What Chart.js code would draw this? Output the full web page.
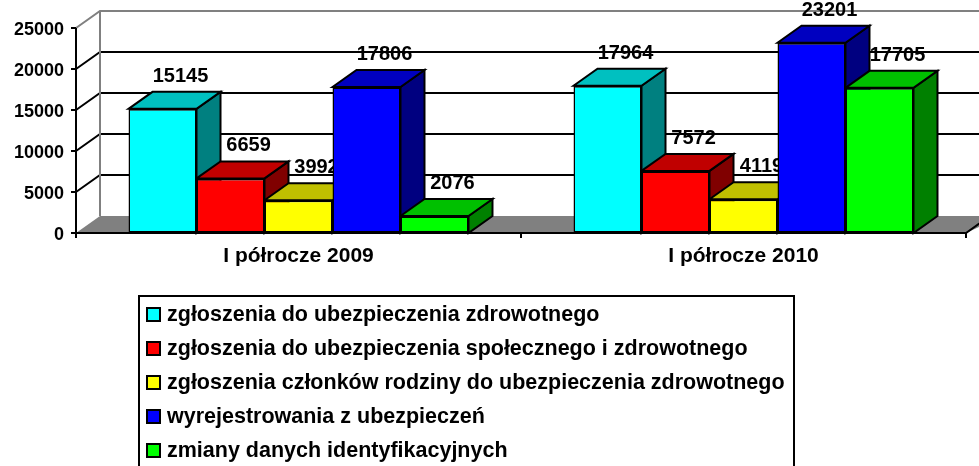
<!DOCTYPE html>
<html>
<head>
<meta charset="utf-8">
<script src="https://cdn.jsdelivr.net/npm/chart.js@4.4.0/dist/chart.umd.min.js"></script>
<style>
body{margin:0;background:#fff;}
</style>
</head>
<body>
<canvas id="myChart" width="979" height="466"></canvas>
<script>
var categories = ["I półrocze 2009", "I półrocze 2010"];
var seriesNames = [
  "zgłoszenia do ubezpieczenia zdrowotnego",
  "zgłoszenia do ubezpieczenia społecznego i zdrowotnego",
  "zgłoszenia członków rodziny do ubezpieczenia zdrowotnego",
  "wyrejestrowania z ubezpieczeń",
  "zmiany danych identyfikacyjnych"
];
var zdrowotne = [15145, 17964];
var spoleczne = [6659, 7572];
var rodzina = [3992, 4119];
var wyrejestrowania = [17806, 23201];
var zmiany = [2076, 17705];
var yTicks = [0, 5000, 10000, 15000, 20000, 25000];

// front, top, side
var palette = [
  ["#00ffff", "#00c0c0", "#008080"],
  ["#ff0000", "#c00000", "#800000"],
  ["#ffff00", "#c0c000", "#808000"],
  ["#0000ff", "#0000c0", "#000080"],
  ["#00ff00", "#00c000", "#008000"]
];
var DX = 24, DY = -17;
var FONT = "'Liberation Sans', Arial, sans-serif";

function poly(ctx, pts, fill, stroke) {
  ctx.beginPath();
  ctx.moveTo(pts[0], pts[1]);
  for (var i = 2; i < pts.length; i += 2) ctx.lineTo(pts[i], pts[i + 1]);
  ctx.closePath();
  if (fill) { ctx.fillStyle = fill; ctx.fill(); }
  if (stroke) { ctx.strokeStyle = stroke; ctx.stroke(); }
}
function line(ctx, pts, color) {
  ctx.beginPath();
  ctx.moveTo(pts[0], pts[1]);
  for (var i = 2; i < pts.length; i += 2) ctx.lineTo(pts[i], pts[i + 1]);
  ctx.strokeStyle = color;
  ctx.stroke();
}

var threeD = {
  id: "threeD",
  beforeDatasetsDraw: function(chart) {
    var ctx = chart.ctx, a = chart.chartArea, ys = chart.scales.y, xs = chart.scales.x;
    var W = chart.width + DX;
    ctx.save();
    ctx.lineWidth = 2;
    ctx.lineJoin = "miter";

    // floor
    poly(ctx, [a.left, a.bottom, a.left + DX, a.bottom + DY, W, a.bottom + DY, a.right, a.bottom], "#808080");

    // walls + gridlines
    ys.ticks.forEach(function(t) {
      if (t.value === 0) return;
      var py = ys.getPixelForValue(t.value);
      var isTop = t.value === yTicks[yTicks.length - 1];
      line(ctx, [a.left, py, a.left + DX, py + DY, W, py + DY], isTop ? "#808080" : "#000");
    });
    line(ctx, [a.left + DX, a.top + DY, a.left + DX, a.bottom + DY], "#808080");

    // front axis, floor edge
    line(ctx, [a.left, a.top, a.left, a.bottom], "#000");
    line(ctx, [a.left - 5, a.bottom, a.right, a.bottom, a.right + DX, a.bottom + DY], "#000");
    ys.ticks.forEach(function(t) {
      var py = ys.getPixelForValue(t.value);
      line(ctx, [a.left - 5, py, a.left, py], "#000");
    });
    var mid = (xs.getPixelForValue(0) + xs.getPixelForValue(1)) / 2;
    [a.left, mid, a.right].forEach(function(px) {
      line(ctx, [px, a.bottom, px, a.bottom + 5], "#000");
    });

    // axis labels
    ctx.fillStyle = "#000";
    ctx.font = "bold 18px " + FONT;
    ctx.textAlign = "right";
    ctx.textBaseline = "alphabetic";
    ys.ticks.forEach(function(t) {
      ctx.fillText(String(t.value), 64, ys.getPixelForValue(t.value) + 6.5);
    });
    ctx.font = "bold 21px " + FONT;
    ctx.textAlign = "center";
    categories.forEach(function(c, i) {
      ctx.fillText(c, xs.getPixelForValue(i), 262);
    });

    // value labels (behind the bars, as in the original)
    ctx.font = "bold 20px " + FONT;
    chart.data.datasets.forEach(function(ds, di) {
      chart.getDatasetMeta(di).data.forEach(function(bar, i) {
        ctx.fillText(String(ds.data[i]), bar.x + DX / 2 + 6, bar.y - 27);
      });
    });

    // top and side faces, left to right
    categories.forEach(function(c, i) {
      chart.data.datasets.forEach(function(ds, di) {
        var p = chart.getDatasetMeta(di).data[i].getProps(["x", "y", "width", "base"], true);
        var l = p.x - p.width / 2, r = p.x + p.width / 2;
        poly(ctx, [r, p.y, r + DX, p.y + DY, r + DX, p.base + DY, r, p.base], palette[di][2], "#000");
        poly(ctx, [l, p.y, l + DX, p.y + DY, r + DX, p.y + DY, r, p.y], palette[di][1], "#000");
      });
    });
    ctx.restore();
  },
  afterDraw: function(chart) {
    var ctx = chart.ctx;
    ctx.save();
    ctx.lineWidth = 2;
    ctx.strokeStyle = "#000";
    ctx.strokeRect(139, 296, 655, 200);
    ctx.font = "bold 21.5px " + FONT;
    ctx.textAlign = "left";
    ctx.textBaseline = "alphabetic";
    seriesNames.forEach(function(name, i) {
      var cy = 314.5 + i * 34;
      ctx.fillStyle = palette[i][0];
      ctx.fillRect(147, cy - 6.5, 13, 13);
      ctx.strokeRect(147, cy - 6.5, 13, 13);
      ctx.fillStyle = "#000";
      ctx.fillText(name, 167, cy + 6);
    });
    ctx.restore();
  }
};

var seriesValues = [zdrowotne, spoleczne, rodzina, wyrejestrowania, zmiany];

new Chart("myChart", {
  type: "bar",
  data: {
    labels: categories,
    datasets: seriesValues.map(function(vals, i) {
      return {
        label: seriesNames[i],
        data: vals,
        backgroundColor: palette[i][0],
        borderColor: "#000",
        borderWidth: {top: 2, bottom: 2, left: 1.5, right: 1.5},
        borderSkipped: false,
        categoryPercentage: 0.764,
        barPercentage: 1
      };
    })
  },
  options: {
    responsive: false,
    animation: false,
    layout: {padding: {left: 76, right: 13, top: 28, bottom: 233}},
    plugins: {legend: {display: false}, tooltip: {enabled: false}},
    scales: {
      x: {display: false},
      y: {
        display: false, min: 0, max: 25000,
        afterBuildTicks: function(s) { s.ticks = yTicks.map(function(v) { return {value: v}; }); }
      }
    }
  },
  plugins: [threeD]
});
</script>
</body>
</html>
